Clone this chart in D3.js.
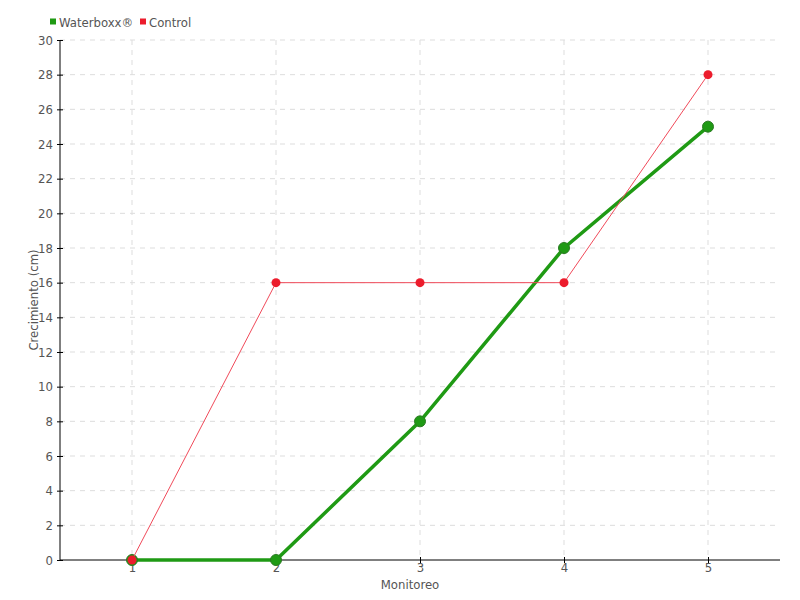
<!DOCTYPE html>
<html>
<head>
<meta charset="utf-8">
<script src="https://cdn.jsdelivr.net/npm/d3@7"></script>
<style>
  body { margin: 0; background: #fff; }
  text { font-family: "DejaVu Sans Condensed", "DejaVu Sans", sans-serif; fill: #555; }
</style>
</head>
<body>
<svg id="chart"></svg>
<script>
// data
const monitoreo = [1, 2, 3, 4, 5];
const waterboxx = [0, 0, 8, 18, 25];
const control = [0, 16, 16, 16, 28];
const yTicks = d3.range(0, 31, 2);

const W = 800, H = 600;
const m = { top: 40, right: 20, bottom: 40, left: 60 };
const iw = W - m.left - m.right, ih = H - m.top - m.bottom;

const svg = d3.select('#chart').attr('width', W).attr('height', H);
const g = svg.append('g').attr('transform', `translate(${m.left},${m.top})`);

const x = d3.scalePoint().domain(monitoreo).range([0, iw]).padding(0.5);
const y = d3.scaleLinear().domain([0, 30]).range([ih, 0]);

// grid
g.append('g').selectAll('line').data(yTicks.filter(d => d > 0)).join('line')
  .attr('x1', 0).attr('x2', iw)
  .attr('y1', d => y(d)).attr('y2', d => y(d))
  .attr('stroke', '#ddd').attr('stroke-dasharray', '5,5');
g.append('g').selectAll('line').data(monitoreo).join('line')
  .attr('x1', d => x(d)).attr('x2', d => x(d))
  .attr('y1', 0).attr('y2', ih)
  .attr('stroke', '#ddd').attr('stroke-dasharray', '5,5');

// axes
const yAxis = g.append('g')
  .call(d3.axisLeft(y).tickValues(yTicks).tickSize(3).tickPadding(4));
yAxis.selectAll('.tick line').attr('x2', 3).attr('x1', -3);
const xAxis = g.append('g').attr('transform', `translate(0,${ih})`)
  .call(d3.axisBottom(x).tickSize(3).tickPadding(0));
xAxis.selectAll('.tick line').attr('y1', -3).attr('y2', 3);
[yAxis, xAxis].forEach(a => {
  a.select('.domain').remove();
  a.selectAll('text').style('font-size', '13px').attr('fill', '#555');
  a.selectAll('line').attr('stroke', '#000');
});
g.append('line').attr('x1', 0).attr('x2', 0).attr('y1', 0).attr('y2', ih).attr('stroke', '#000');
g.append('line').attr('x1', 0).attr('x2', iw).attr('y1', ih).attr('y2', ih).attr('stroke', '#000');

// axis titles
svg.append('text').attr('x', m.left + iw / 2 - 10).attr('y', 589)
  .attr('text-anchor', 'middle').style('font-size', '13px').text('Monitoreo');
svg.append('text').attr('transform', `translate(38,${m.top + ih / 2}) rotate(-90)`)
  .attr('text-anchor', 'middle').style('font-size', '13px').text('Crecimiento (cm)');

const line = d3.line().x((d, i) => x(monitoreo[i])).y(d => y(d));

// Waterboxx
g.append('path').datum(waterboxx).attr('d', line)
  .attr('fill', 'none').attr('stroke', '#1f9a14').attr('stroke-width', 3.5);
g.append('g').selectAll('circle').data(waterboxx).join('circle')
  .attr('cx', (d, i) => x(monitoreo[i])).attr('cy', d => y(d)).attr('r', 5.5)
  .attr('fill', '#1f9a14').attr('stroke', '#2a7a22').attr('stroke-width', 1);

// Control
g.append('path').datum(control).attr('d', line)
  .attr('fill', 'none').attr('stroke', '#f04a5a').attr('stroke-width', 1);
g.append('g').selectAll('circle').data(control).join('circle')
  .attr('cx', (d, i) => x(monitoreo[i])).attr('cy', d => y(d)).attr('r', 4.5)
  .attr('fill', '#ec1c2c');

// legend
const legend = [
  { name: 'Waterboxx®', color: '#1f9a14', x: 50 },
  { name: 'Control', color: '#ec1c2c', x: 140 }
];
const lg = svg.append('g').selectAll('g').data(legend).join('g')
  .attr('transform', d => `translate(${d.x},0)`);
lg.append('rect').attr('x', 0).attr('y', 18.5).attr('width', 6).attr('height', 6).attr('fill', d => d.color);
lg.append('text').attr('x', 9).attr('y', 27).style('font-size', '13px').text(d => d.name);
</script>
</body>
</html>
